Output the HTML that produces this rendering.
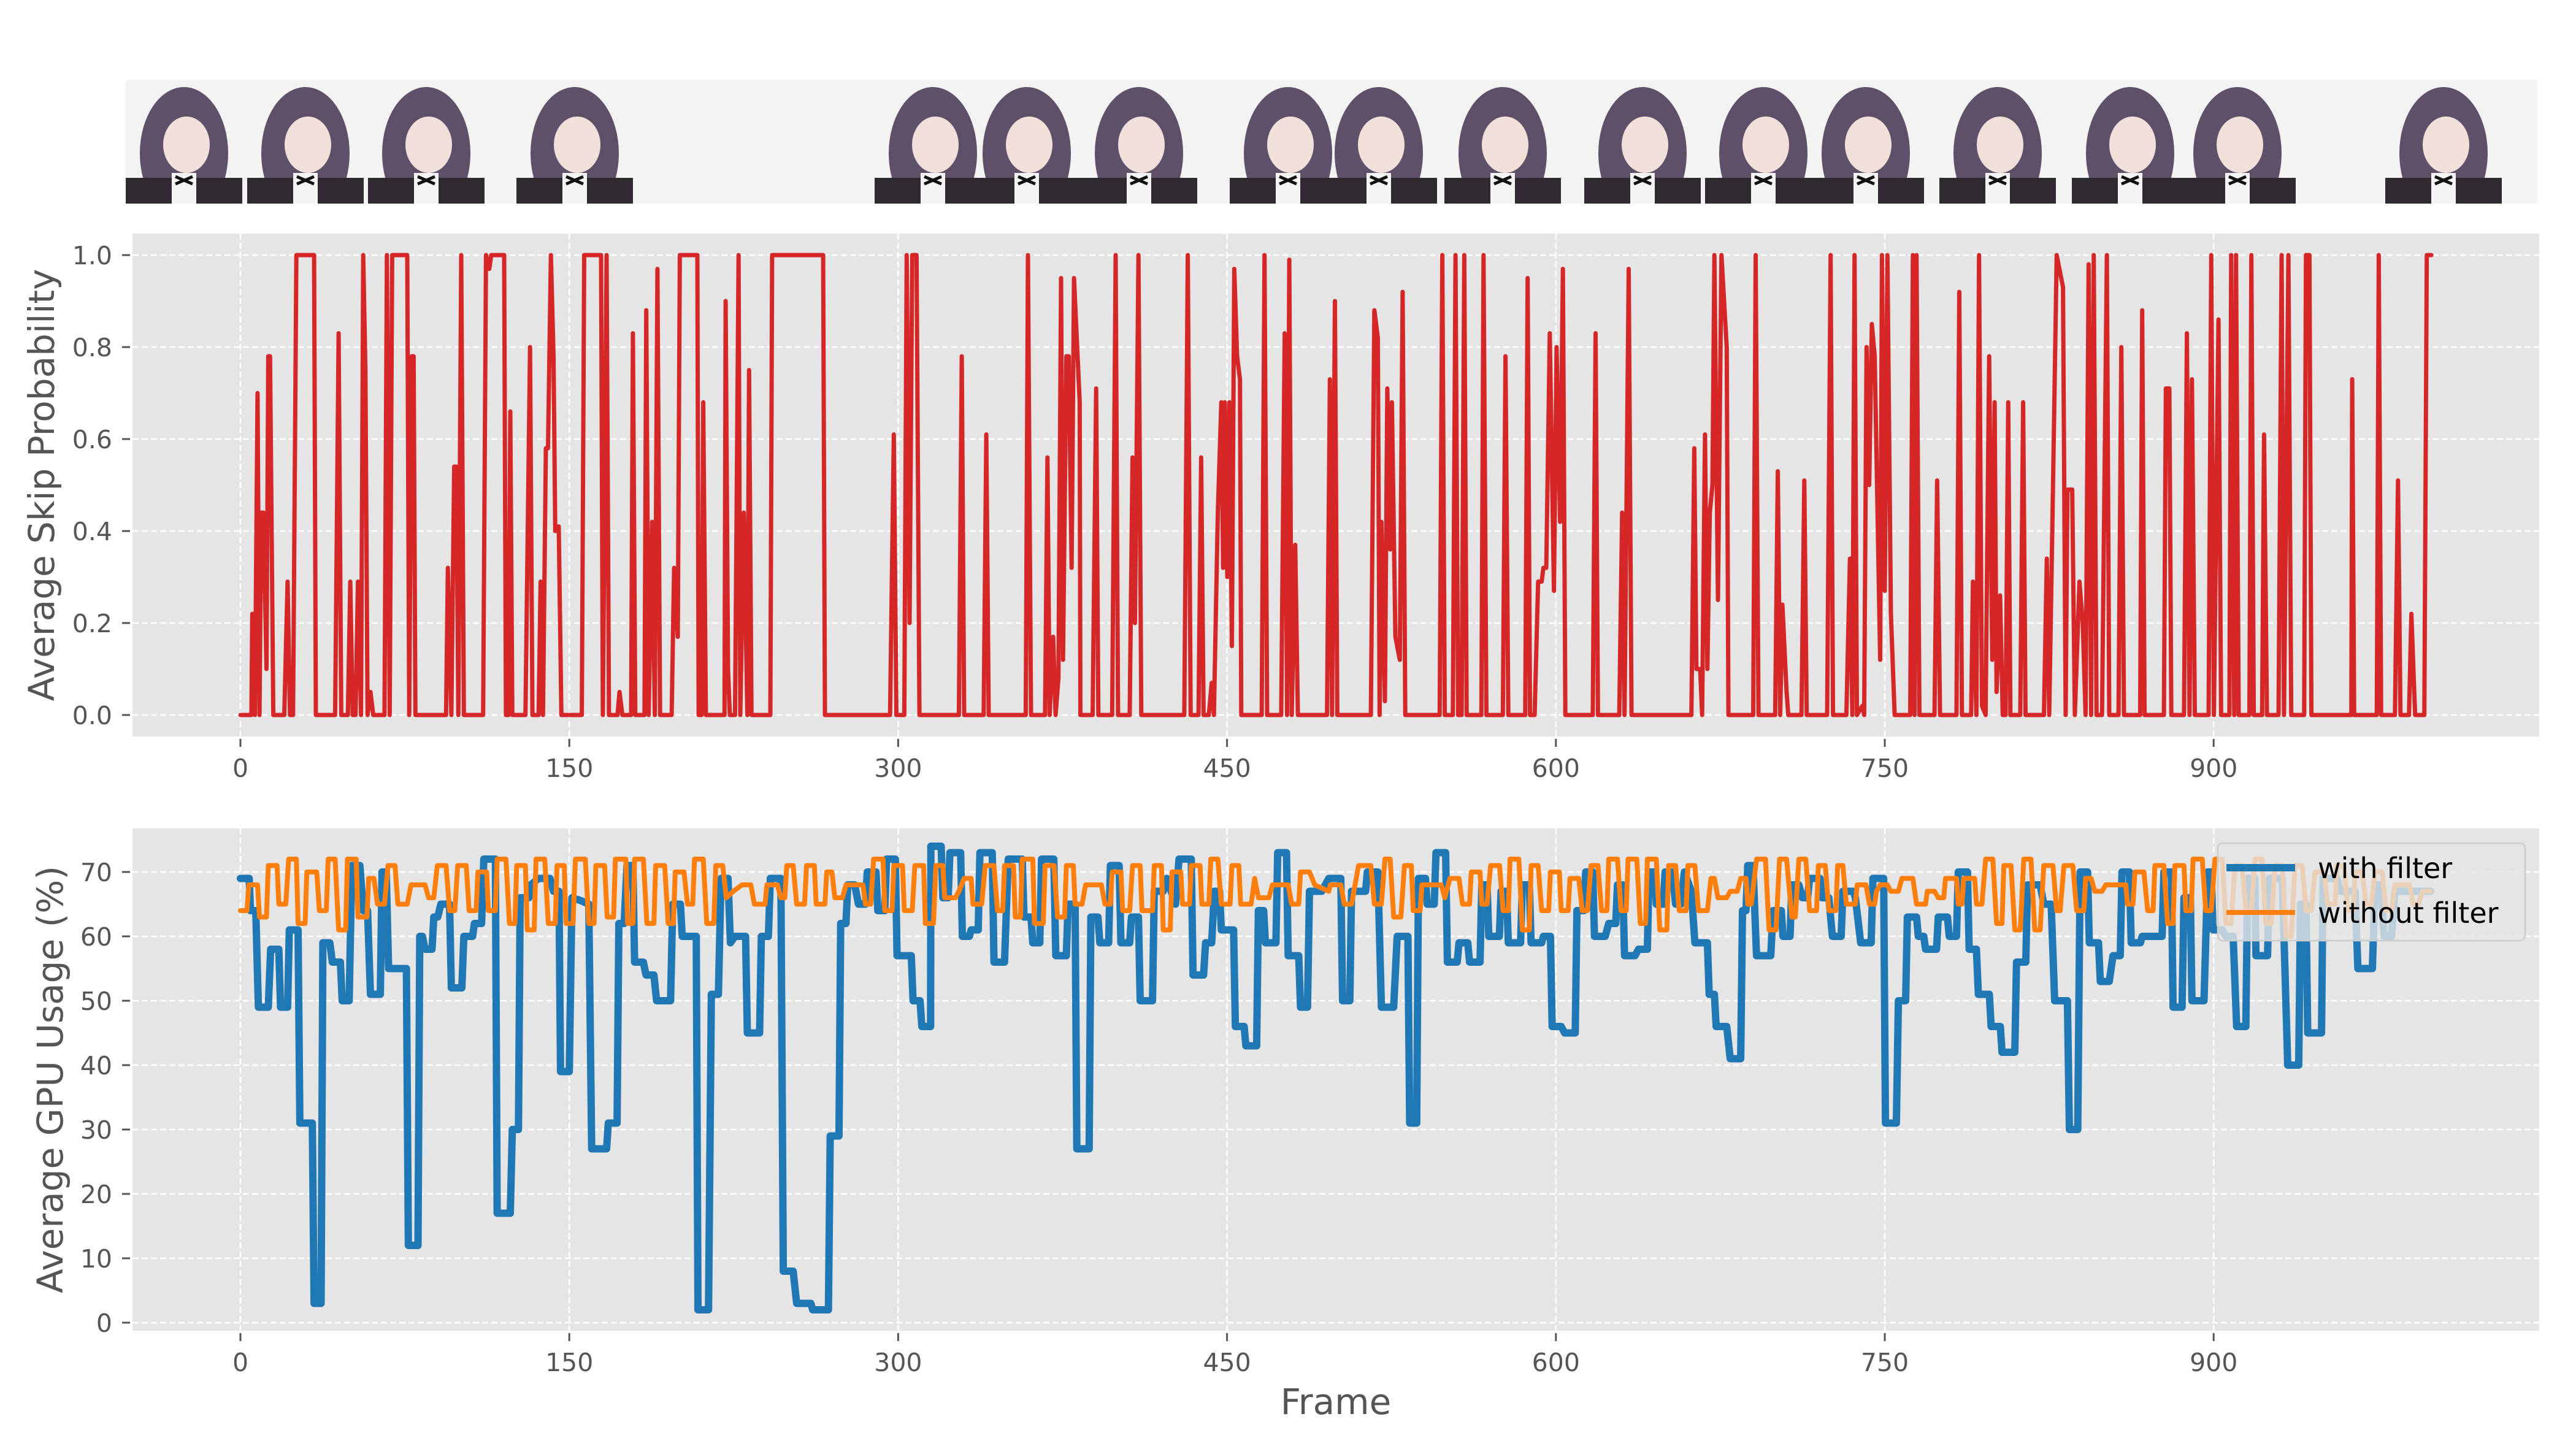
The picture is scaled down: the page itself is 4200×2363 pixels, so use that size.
<!DOCTYPE html>
<html>
<head>
<meta charset="utf-8">
<style>
  html,body{margin:0;padding:0;background:#fff;}
  svg{display:block;}
  text{font-family:"DejaVu Sans","Liberation Sans",sans-serif;}
</style>
</head>
<body>
<svg id="fig" xmlns="http://www.w3.org/2000/svg" width="4200" height="2363" viewBox="0 0 4200 2363">
  <rect x="0" y="0" width="4200" height="2363" fill="#ffffff"/>
  <defs><clipPath id="strip-clip"><rect x="205" y="130" width="3932" height="202"/></clipPath></defs>
  <g id="strip" clip-path="url(#strip-clip)">
    <rect x="205" y="130" width="3932" height="202" fill="#f3f3f3"/>
  </g>
  <g id="top-axes"></g>
  <g id="bot-axes"></g>
</svg>
<script>
// ---------------- data ----------------
const xTickValues = [0, 150, 300, 450, 600, 750, 900];
const skipTickValues = [0.0, 0.2, 0.4, 0.6, 0.8, 1.0];
const skipTickLabels = ["0.0", "0.2", "0.4", "0.6", "0.8", "1.0"];
const gpuTickValues = [0, 10, 20, 30, 40, 50, 60, 70];
const gpuTickLabels = ["0", "10", "20", "30", "40", "50", "60", "70"];
const legendLabels = ["with filter", "without filter"];

// [frame, skip probability]
const skipProbability = [[0,0],[5,0],[5.4,.22],[6.6,0],[7.8,.7],[8.7,0],[9.5,.44],[10.5,.44],[11.9,.1],[12.7,.78],[13.5,.78],[15,0],[20,0],[21.5,.29],[22.6,0],[24,0],[25.5,1],[33.6,1],[34.4,0],[43.2,0],[44.8,.83],[46,0],[49,0],[50.1,.29],[51.2,0],[52.5,0],[53.6,.29],[55,0],[56,1],[57,.75],[58,0],[59.3,.05],[60.6,0],[65.7,0],[66.8,1],[68.1,0],[69.2,1],[76.1,1],[77,0],[78.1,.78],[79,.78],[79.8,0],[93.8,0],[94.6,.32],[96.2,0],[97.5,.54],[98.5,.54],[99.4,0],[100.7,1],[101.9,0],[110.7,0],[112,1],[113.5,.97],[114.4,1],[120.3,1],[121.1,0],[122.3,0],[123.1,.66],[124,0],[130,0],[132.1,.8],[133.2,0],[136,0],[136.9,.29],[138,0],[139.3,.58],[140.3,.58],[141.6,1],[142.8,.78],[143.6,.4],[145.2,.41],[146.4,0],[155.7,0],[156.8,1],[164.5,1],[165.3,0],[167,1],[168.1,0],[172,0],[172.9,.05],[174.2,0],[178.2,0],[179,.83],[180.1,0],[184.3,0],[185.1,.88],[186.2,0],[187.8,.42],[189,0],[190.2,.97],[191.4,0],[196.7,0],[197.8,.32],[199.5,.17],[200.4,1],[208.4,1],[209,0],[210.3,0],[211.1,.68],[212.3,0],[220.8,0],[221.3,.9],[222.4,.1],[223.2,0],[225.6,0],[227.2,1],[228,0],[229.6,.44],[231.2,0],[232,.75],[233.1,0],[241.7,0],[242.5,1],[265.8,1],[266.6,0],[296.3,0],[298,.61],[299.2,0],[302.8,0],[303.9,1],[305.2,.2],[306.4,1],[308.4,1],[309.7,0],[327.7,0],[329,.78],[330.1,0],[339,0],[340.2,.61],[341.3,0],[358.2,0],[359.2,1],[360.6,0],[367,0],[368.1,.56],[369.1,0],[370.7,.17],[371.8,0],[373.1,.08],[374.3,.95],[375.2,.12],[376.7,.78],[377.8,.78],[379.1,.32],[380.2,.95],[382.8,.68],[383.1,0],[388.7,0],[390.3,.71],[391.3,0],[397.6,0],[399.2,1],[400.3,0],[405.6,0],[406.9,.56],[408,.2],[409.6,1],[410.9,0],[430.5,0],[432.1,1],[433.4,0],[437,0],[438.2,.56],[439.3,0],[441.7,0],[443,.07],[444,0],[445.8,.44],[447.4,.68],[448.2,.32],[449,.68],[450.1,.3],[451.1,.68],[452.2,.15],[453.3,.97],[454.6,.78],[455.9,.73],[456.5,0],[465.8,0],[467.1,1],[468.3,0],[474.7,0],[476.3,.83],[477.4,0],[478.4,.99],[479.5,0],[481.1,.37],[482.3,0],[495.6,0],[496.9,.73],[497.9,0],[499.2,.9],[500.3,0],[515.6,0],[517.2,.88],[518.8,.82],[519.6,0],[520.4,.42],[522,.03],[523.1,.71],[524.4,.36],[525.2,.68],[526.8,.17],[528.8,.12],[530.1,.92],[531.3,0],[547,0],[548.2,1],[549.3,0],[553,0],[554.2,1],[555.4,0],[557,0],[558.2,1],[559.3,0],[566,0],[567,1],[568.3,0],[575.8,0],[577,.78],[578.3,0],[586,0],[587.1,.95],[588.2,0],[590.3,0],[591.9,.29],[593.5,.29],[594.3,.32],[595.6,.32],[597.2,.83],[599.1,.27],[600.3,.8],[601.9,.42],[603.2,.97],[604.3,0],[616.8,0],[618.1,.83],[619.2,0],[628.9,0],[630.2,.44],[631.3,0],[633.2,.97],[634.5,0],[661.8,0],[663.1,.58],[664.1,.1],[665.8,.1],[666.7,0],[668,.61],[669.1,.1],[670.2,.44],[671.4,.5],[672.3,1],[673.9,.25],[675.5,1],[677.9,.8],[678.7,0],[690,0],[691.1,1],[692.4,0],[700,0],[701.2,.53],[702.3,0],[703.3,.24],[705.2,.05],[706,0],[712,0],[713.3,.51],[714.4,0],[723.7,0],[725.3,1],[726.4,0],[732.5,0],[734.1,.34],[735.2,0],[736.2,1],[737.3,0],[739.8,.02],[740.6,0],[741.7,.8],[742.9,.5],[744.1,.85],[745.4,.78],[747.9,.12],[748.7,1],[750,.27],[751.2,1],[752.8,.22],[754.5,0],[761.6,0],[762.8,1],[763.6,0],[764.5,1],[765.8,0],[772.7,0],[773.9,.51],[775.2,0],[782.7,0],[784,.92],[785.2,0],[789.4,0],[790.2,.29],[791.8,0],[793,1],[794.3,.02],[796,0],[797.6,.78],[799,.12],[800.1,.68],[801,.05],[802.6,.26],[803.8,0],[805.1,0],[806.3,.68],[807.3,0],[811.8,0],[813.1,.68],[814.2,0],[822.6,0],[823.9,.34],[825,0],[826.7,.49],[828.4,1],[831.3,.93],[832.5,0],[833.3,.49],[835.5,.49],[836.7,0],[838.8,.29],[840.3,.2],[841.6,0],[843,.98],[844.1,0],[845.3,1],[846.6,0],[849.1,0],[851.3,1],[852.4,0],[856.6,0],[857.9,.8],[859.1,0],[866.5,0],[867.4,.88],[868.5,0],[877.3,0],[878.2,.71],[879.8,.71],[880.7,0],[886.5,0],[887.8,.83],[889,0],[890.1,.73],[891.4,0],[897.7,0],[898.9,1],[900.1,0],[902.2,.86],[903.4,0],[907.2,0],[908,1],[909.4,0],[910.2,1],[911.4,0],[916.3,0],[917.2,1],[918.3,0],[922.1,0],[923,.61],[924.3,0],[929.6,0],[931,1],[932.1,0],[934.1,1],[935.4,0],[941.3,0],[942.1,1],[943.7,1],[944.6,0],[962.8,0],[963.2,.73],[964.1,0],[974.4,0],[975.3,1],[976.4,0],[982.7,0],[984.1,.51],[985.2,0],[989.1,0],[990.2,.22],[991.9,0],[996.1,0],[997.2,1],[999.3,1]];

// [frame, GPU usage %] with filter
const gpuWithFilter = [[0,69],[4,69],[4.6,64],[7,64],[8.2,49],[12.7,49],[13.8,58],[17.5,58],[18.3,49],[21.5,49],[22.3,61],[26.3,61],[27.1,31],[32.8,31],[33.6,3],[36.8,3],[37.6,59],[40.8,59],[41.9,56],[45.6,56],[46.4,50],[49.6,50],[50.8,71],[54.5,71],[56,64],[58,64],[59.3,51],[63.8,51],[64.6,70],[66.5,70],[67.6,55],[75.7,55],[76.6,12],[81,12],[81.8,60],[83,60],[84.2,58],[87.4,58],[88.2,63],[90,63],[91.4,65],[95.4,65],[96.2,52],[101,52],[101.9,60],[105.9,60],[106.7,62],[110,62],[111,72],[116.3,72],[117.1,17],[123.1,17],[124,30],[126.8,30],[127.6,66],[131.6,66],[132.4,68],[136,69],[141.2,69],[142.8,67],[145.3,67],[146,39],[150,39],[151.2,66],[155.7,65.5],[158.9,65],[160.2,27],[167,27],[167.8,31],[171.8,31],[172.6,62],[175,62],[176.3,71],[179,71],[179.8,56],[183.8,56],[185,54],[188.6,54],[189.8,50],[196.2,50],[197.2,65],[200.7,65],[201.5,60],[207.9,60],[208.7,2],[213.5,2],[214.8,51],[218,51],[219.2,69],[222.4,69],[223.5,59],[225.6,60],[230.4,60],[231.2,45],[236.8,45],[237.6,60],[240.8,60],[241.7,69],[246.5,69],[247.6,8],[252.1,8],[253.7,3],[260.2,3],[261,2],[268.2,2],[269,29],[273,29],[273.8,62],[276.2,62],[277,68],[280.2,68],[281.9,65],[285.1,65],[285.9,70],[289.9,70],[290.7,64],[293.9,64],[294.7,72],[298.7,72],[299.5,57],[306,57],[306.8,50],[310,50],[310.8,46],[314.8,46],[314.9,74],[319.6,74],[320.4,66],[322.8,66],[323.6,73],[328.5,73],[329.3,60],[332.5,60],[333.3,61],[336.5,61],[337.3,73],[342.9,73],[343.7,56],[348.5,56],[350.2,72],[356.6,72],[357.4,63],[360.6,63],[361.4,59],[364.6,59],[365.4,72],[371,72],[371.9,57],[376.7,57],[377.5,65],[380.7,65],[381.5,27],[387.1,27],[387.9,63],[391.1,63],[392,59],[396,59],[396.8,71],[400.8,71],[401.6,59],[405.6,59],[406.4,63],[409.6,63],[410.4,50],[416,50],[416.8,67],[420.9,67],[422.5,69],[426.5,65],[428.1,72],[433.7,72],[434.5,54],[439.3,54],[440.2,59],[443,59],[444.2,67],[446.6,67],[447.4,61],[453,61],[453.8,46],[457.8,46],[458.6,43],[463.5,43],[464.3,64],[466.7,64],[467.5,59],[472.3,59],[473.1,73],[477.1,73],[477.9,57],[482.7,57],[483.5,49],[486.7,49],[487.6,67],[493.2,67],[496.4,69],[499.5,69],[501.9,69],[502.7,50],[506,50],[506.8,67],[513.2,67],[514,70],[518.8,70],[520.4,49],[526,49],[527.6,60],[532.5,60],[533.3,31],[536.5,31],[537.3,69],[540.5,69],[541.3,65],[544.5,65],[545.3,73],[549.7,73],[550.5,56],[555,56],[555.8,59],[559.8,59],[560.6,56],[565.4,56],[566.2,68],[568.6,68],[569.4,60],[574.2,60],[575,67],[577.5,67],[578.3,59],[583.9,59],[584.7,68],[587.9,68],[588.7,59],[593.5,59],[594.3,60],[597.5,60],[598.3,46],[602.4,46],[604,45],[608.8,45],[609.6,64],[612.8,64],[613.6,70],[616.8,70],[617.6,60],[622.5,60],[624.1,62],[627.3,62],[628.1,68],[630.5,68],[631.3,57],[636.1,57],[637.7,58],[641.7,58],[642.5,70],[645,70],[645.8,65],[649,65],[649.8,70],[653,70],[654.6,65],[657,65],[658.6,70],[661.8,67],[663.4,59],[669.1,59],[669.9,51],[672.3,51],[673.1,46],[677.9,46],[679.5,41],[684.3,41],[685.1,64],[686.7,64],[687.5,71],[689.9,71],[691.5,57],[698,57],[699.1,64],[702.8,64],[703.6,60],[706.8,60],[707.6,68],[710.8,68],[712.4,66],[714.8,66],[715.7,69],[720.5,69],[721.3,66],[724.5,66],[726.1,60],[730.1,60],[730.9,67],[735.7,67],[736.6,66],[739,59],[743.8,59],[744.6,69],[746.2,69],[749.5,69],[750.3,31],[755.3,31],[756.2,50],[759.5,50],[760.3,63],[764.5,63],[765.3,60],[767.8,60],[768.6,58],[773.6,58],[774.4,63],[778.6,63],[779.4,60],[782.7,60],[783.5,70],[787.7,70],[788.5,58],[791.8,58],[792.7,51],[797.7,51],[798.5,46],[802.7,46],[803.5,42],[809.3,42],[810.1,56],[814.3,56],[815.1,68],[820.9,68],[822.5,65],[825.9,65],[827.5,50],[833.3,50],[834.2,30],[838,30],[839.1,70],[842.5,70],[843.3,59],[847.5,59],[848.3,53],[852.4,53],[854.1,57],[857.4,57],[858.2,70],[861.6,70],[862.4,59],[866.6,59],[867.4,60],[876.5,60],[877.3,70],[880.7,70],[881.5,49],[885.6,49],[886.5,66],[889.4,66],[890.1,50],[895.6,50],[897.3,70],[898.9,70],[899.7,61],[903.9,61],[905.6,60],[908.9,60],[910.5,46],[914.7,46],[915.5,69],[918.8,69],[919.3,57],[924.6,57],[925.5,69],[931.3,69],[933.8,40],[938.8,40],[939.6,65],[942.1,65],[942.9,45],[949.2,45],[949.9,69],[956.2,69],[957.8,67],[964.5,67],[965.8,55],[972.4,55],[973.6,68],[976.1,68],[977.8,60],[981.1,60],[982.7,67],[999,67]];

// [frame, GPU usage %] without filter
const gpuWithoutFilter = [[0,64],[3,64],[3.8,68],[7.8,68],[8.7,63],[11.9,63],[12.7,71],[16.7,71],[17.5,65],[20.7,65],[22,72],[25.5,72],[26.3,62],[29.5,62],[30.3,70],[34.8,70],[36,64],[39.2,64],[40,72],[43.2,72],[44.8,61],[48,61],[48.8,72],[52.8,72],[53.6,63],[57.7,63],[58.5,69],[60.9,69],[62.5,65],[65.7,65],[67.3,71],[70.5,71],[71.8,65],[76.1,65],[77.8,68],[84.2,68],[85.8,66],[88.2,66],[89.8,71],[93.8,71],[95.4,64],[97.8,64],[99.1,71],[103,71],[104.3,64],[107.5,64],[108.3,70],[112.3,70],[113.1,64],[116.3,64],[117.1,72],[121.1,72],[122.7,62],[125.2,62],[126,71],[130,71],[130.8,61],[134,61],[134.8,72],[138.8,72],[140.4,62],[143.6,62],[144.4,71],[147.7,71],[148.5,62],[151.7,62],[152.8,72],[157.3,72],[158.9,62],[161.3,62],[162.1,71],[166.1,71],[167.3,63],[170.2,63],[171,72],[175.8,72],[176.6,62],[179,62],[179.8,72],[183.8,72],[185.4,62],[188.6,62],[189.4,71],[193.5,71],[195.1,62],[197.5,62],[198.3,70],[202.3,70],[203.9,65],[206.3,65],[207.1,72],[211.1,72],[212.7,62],[215.9,62],[216.8,71],[220,71],[221.6,66],[224.8,67],[228.8,68],[232.8,68],[234.4,65],[239.3,65],[240.1,68],[244.9,68],[246.5,66],[248.3,66],[249.2,71],[252.1,71],[253.7,65],[257.3,65],[258.2,71],[261.8,71],[262.6,65],[266.6,65],[267.4,70],[269.8,70],[271.1,66],[274.6,66],[276.2,68],[283.9,68],[285.1,65],[287.5,65],[288.8,72],[293.1,72],[293.9,64],[297.2,64],[298,71],[302,71],[302.8,64],[306.4,64],[307.6,71],[311.6,71],[312.4,62],[316.1,62],[317.2,71],[320.4,71],[321.2,66],[326.1,66],[327.7,67],[330.1,69],[333.3,69],[334.1,65],[338.1,65],[339.7,71],[343.7,71],[345.3,64],[347.7,64],[348.5,71],[352.6,71],[353.4,63],[355.8,63],[356.6,72],[361.4,72],[362.2,62],[366.2,62],[367,71],[371.1,71],[372.7,63],[375.9,63],[376.7,71],[379.9,71],[380.7,65],[383.9,65],[385.5,68],[392.7,68],[394.3,65],[396.8,65],[397.6,70],[401.6,70],[402.4,64],[405.6,64],[406.9,71],[410.4,71],[411.2,64],[416,64],[416.8,71],[420.1,71],[420.9,61],[424.1,61],[424.9,70],[428.9,70],[429.7,65],[432.9,65],[433.7,71],[437.7,71],[438.5,65],[441.7,65],[442.6,72],[445.8,72],[447.4,65],[451.4,65],[452.2,71],[455.4,71],[456.2,65],[461,65],[462.6,69],[464.3,66],[469.1,66],[470.7,68],[477.9,68],[479.5,65],[482.7,65],[483.5,70],[487.6,70],[490,68],[496.4,67],[497.1,68],[501.9,68],[503.5,65],[506.8,65],[510,71],[515.6,71],[517.2,65],[520.4,65],[522,72],[524.4,72],[526,63],[529.3,63],[530.9,71],[534.1,71],[534.9,64],[538.1,64],[538.9,68],[547.7,68],[549.3,66],[551.7,69],[555.8,69],[557.4,65],[560.6,65],[561.4,70],[565.4,70],[566.2,65],[568.6,65],[570.2,71],[574.3,71],[575.9,64],[578.3,64],[579.1,72],[583.1,72],[584.7,61],[587.9,61],[588.7,71],[591.9,71],[593.5,64],[596.7,64],[597.5,70],[601.6,70],[602.4,64],[605.6,64],[606.4,69],[610.4,69],[612,64],[614.4,64],[616,71],[619.2,71],[620.8,64],[623.3,64],[624.1,72],[628.1,72],[629.7,64],[632.1,64],[632.9,72],[636.9,72],[638.5,62],[640.9,62],[641.7,72],[645.8,72],[647.4,61],[650.6,61],[651.4,71],[654.6,71],[656.2,64],[659.4,64],[660.2,71],[663.4,71],[665,64],[669.1,64],[670.7,69],[672.3,69],[673.9,66],[677.9,66],[679.5,67],[682.7,67],[684.3,69],[686.7,69],[687.5,65],[689.1,65],[691.5,72],[695.6,72],[697.2,61],[700.4,61],[702,72],[705.2,72],[707.6,63],[709.2,63],[710.8,72],[714,72],[715.7,64],[718.9,64],[719.7,71],[722.9,71],[724.5,64],[727.7,64],[728.5,71],[730.9,71],[732.5,65],[736.6,65],[737.4,68],[741.4,68],[743,65],[745.4,65],[746.2,67],[747.9,68],[751.2,68],[752.8,67],[756.2,67],[757.8,69],[762.8,69],[764.5,65],[768.6,65],[769.4,67],[772.7,67],[774.4,66],[776.9,66],[777.7,69],[782.7,69],[783.5,65],[785.2,65],[786,69],[791,69],[791.8,65],[794.3,65],[796,72],[799.3,72],[801,62],[803.5,62],[804.3,71],[807.6,71],[809.3,61],[811.8,61],[813.4,72],[816.7,72],[818.4,61],[820.9,61],[822.5,71],[826.7,71],[828.4,64],[830,64],[831.7,71],[835.8,71],[837.5,64],[840.8,64],[841.6,69],[844.1,69],[845.8,67],[849.1,67],[850.8,68],[859.9,68],[860.7,65],[863.2,65],[864.1,70],[868.2,70],[869.9,64],[872.4,64],[873.2,71],[877.3,71],[879,62],[881.5,62],[882.3,71],[886.5,71],[887.3,64],[889.8,64],[890.6,72],[894.8,72],[896.4,64],[898.9,64],[900.6,72],[903.9,72],[905.6,62],[908,62],[909.7,71],[913,71],[914.7,64],[917.2,64],[918.8,72],[922.1,72],[923.8,62],[926.3,62],[928,71],[931.3,71],[933,60],[935.4,60],[937.1,71],[940.4,71],[942.1,64],[944.6,64],[946.2,70],[950.4,70],[952,65],[955.4,65],[956.2,71],[959.5,71],[961.2,64],[963.7,64],[964.5,70],[967.8,70],[969.5,65],[972,65],[973.6,70],[976.9,70],[978.6,64],[981.1,64],[982.7,68],[989.4,68],[991,65],[993.5,65],[995.2,67],[999,67]];
</script>
<script>
const NS = "http://www.w3.org/2000/svg";
function mk(tag, attrs, parent){ const e=document.createElementNS(NS,tag); for(const k in attrs) e.setAttribute(k,attrs[k]); if(parent) parent.appendChild(e); return e; }

const AX_L = 216, AX_R = 4140;
const TOP = {t:381, b:1201};
const BOT = {t:1351, b:2170};
function xScale(f){ return 392 + f * (3609.2 - 392) / 900; }
function ySkip(v){ return 1166 - v * 750; }
function yGpu(v){ return 2157 - v * 10.5; }

const svg = document.getElementById('fig');

// thumbnail strip: stylised figures (decorative)
const strip = document.getElementById('strip');
const figureCentres = [300,498,695,937,1521,1674,1857,2100,2248,2450,2678,2875,3042,3257,3473,3648,3984];
figureCentres.forEach((cx,i)=>{
  const g = mk('g',{},strip);
  
  
  mk('ellipse',{cx:cx, cy:250, rx:72, ry:108, fill:'#5e5068'},g);
  mk('ellipse',{cx:cx+4, cy:236, rx:38, ry:46, fill:'#f1e0da'},g);
  mk('rect',{x:cx-95, y:290, width:190, height:45, fill:'#2f2a30'},g);
  mk('rect',{x:cx-20, y:282, width:40, height:50, fill:'#f4f4f4'},g);
  mk('path',{d:`M${cx-14} 288 L${cx+14} 300 M${cx+14} 288 L${cx-14} 300`,stroke:'#111','stroke-width':5},g);
});

function drawAxes(gid, box, yTicks, yLabels, yFn, yTitle, yTitleX){
  const g = document.getElementById(gid);
  const bg = mk('rect',{x:AX_L, y:box.t, width:AX_R-AX_L, height:box.b-box.t, fill:'#e5e5e5'},g);
  
  
  xTickValues.forEach(v=>{
    const x = xScale(v);
    const l = mk('line',{x1:x,x2:x,y1:box.t,y2:box.b,stroke:'#ffffff','stroke-width':2.5,'stroke-dasharray':'10,5'},g);
    
    
  });
  yTicks.forEach(v=>{
    const y = yFn(v);
    const l = mk('line',{x1:AX_L,x2:AX_R,y1:y,y2:y,stroke:'#ffffff','stroke-width':2.5,'stroke-dasharray':'10,5'},g);
    
    
  });
  xTickValues.forEach(v=>{
    const x = xScale(v);
    mk('line',{x1:x,x2:x,y1:box.b+4,y2:box.b+17,stroke:'#555','stroke-width':3},g);
    const t = mk('text',{x:x,y:box.b+66,'text-anchor':'middle','font-size':41,fill:'#555'},g);
    t.textContent = String(v);
    
    
  });
  yTicks.forEach((v,i)=>{
    const y = yFn(v);
    mk('line',{x1:199,x2:212,y1:y,y2:y,stroke:'#555','stroke-width':3},g);
    const t = mk('text',{x:183,y:y+15,'text-anchor':'end','font-size':41,fill:'#555'},g);
    t.textContent = yLabels[i];
    
    
  });
  const cy = (box.t+box.b)/2;
  const yt = mk('text',{x:yTitleX,y:cy,'text-anchor':'middle','font-size':58,fill:'#555',transform:`rotate(-90 ${yTitleX} ${cy})`},g);
  yt.textContent = yTitle;
  
  
  const clip = mk('clipPath',{id:gid+'-clip'},g);
  mk('rect',{x:AX_L,y:box.t,width:AX_R-AX_L,height:box.b-box.t},clip);
  return g;
}

function drawLine(g, clipId, pts, yFn, color, width, name){
  const d = pts.map((p,i)=>(i?'L':'M')+xScale(p[0]).toFixed(1)+' '+yFn(p[1]).toFixed(1)).join(' ');
  const path = mk('path',{d:d,fill:'none',stroke:color,'stroke-width':width,'stroke-linejoin':'round','stroke-linecap':'round','clip-path':`url(#${clipId})`},g);
  
  
}

const gTop = drawAxes('top-axes', TOP, skipTickValues, skipTickLabels, ySkip, 'Average Skip Probability', 88);
drawLine(gTop,'top-axes-clip', skipProbability, ySkip, '#d62728', 7, 'skip-probability-line');

const gBot = drawAxes('bot-axes', BOT, gpuTickValues, gpuTickLabels, yGpu, 'Average GPU Usage (%)', 102);
drawLine(gBot,'bot-axes-clip', gpuWithFilter, yGpu, '#1f77b4', 12, 'with-filter-line');
drawLine(gBot,'bot-axes-clip', gpuWithoutFilter, yGpu, '#ff7f0e', 8, 'without-filter-line');

const xt = mk('text',{x:(AX_L+AX_R)/2,y:2306,'text-anchor':'middle','font-size':58,fill:'#555'},svg);
xt.textContent = 'Frame';



const lg = mk('g',{},svg);


mk('rect',{x:3616,y:1375,width:501,height:159,rx:8,fill:'#e5e5e5','fill-opacity':0.8,stroke:'#cccccc','stroke-width':2.5},lg);
const legendColors = ['#1f77b4','#ff7f0e'];
const legendWidths = [12, 8];
legendLabels.forEach((lab,i)=>{
  const y = 1415 + i*73;
  const e = mk('g',{},lg);
  
  
  mk('line',{x1:3630,x2:3742,y1:y,y2:y,stroke:legendColors[i],'stroke-width':legendWidths[i]},e);
  const t = mk('text',{x:3779,y:y+17,'font-size':46,fill:'#000'},e);
  t.textContent = lab;
});
</script>
</body>
</html>
